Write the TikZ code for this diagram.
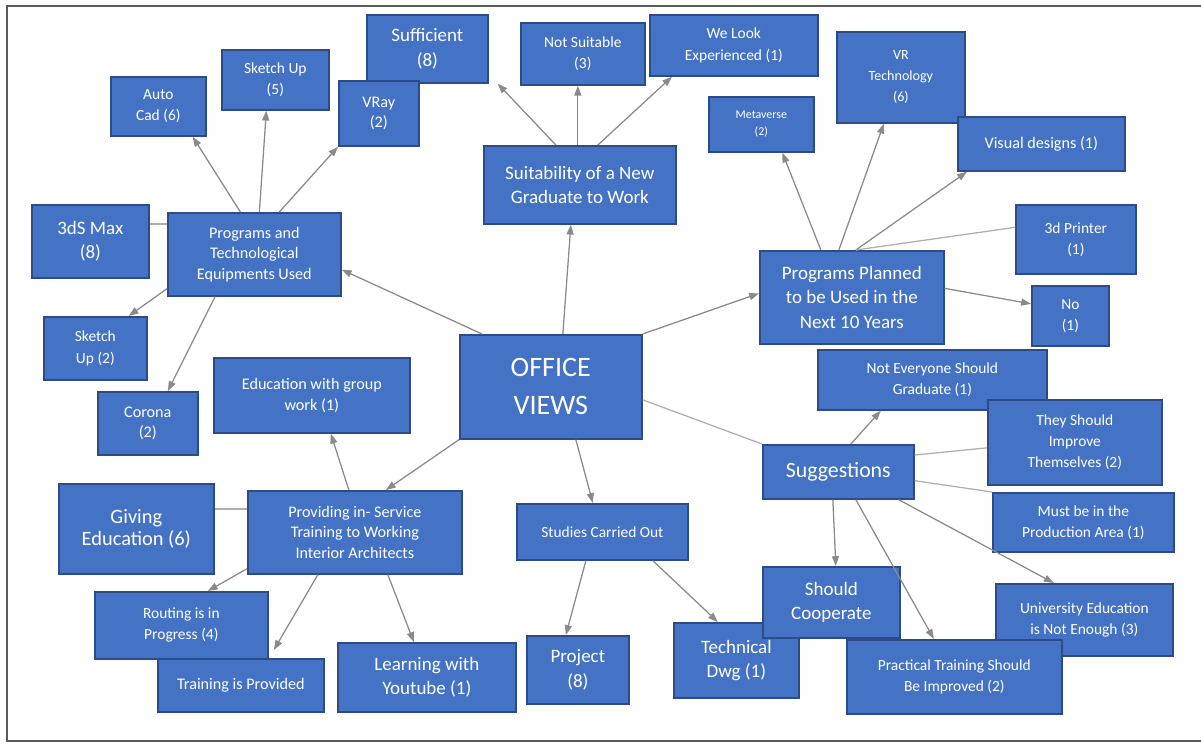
\documentclass[tikz,border=0pt]{standalone}
\usepackage{fontspec}
\setmainfont{Carlito}
\usetikzlibrary{arrows.meta, calc}
\definecolor{boxfill}{HTML}{4472C4}
\definecolor{boxline}{HTML}{2B4C86}
\definecolor{arrgray}{HTML}{8A8A8A}
\definecolor{linkgray}{HTML}{B4ACA8}
\definecolor{framegray}{HTML}{5A5A5A}

\begin{document}
\begin{tikzpicture}[x=0.025cm, y=-0.025cm,
	box/.style={draw=boxline, fill=boxfill, text=white, line width=1.2pt, anchor=north west, align=center, inner sep=1pt},
	wh/.style 2 args={minimum width=#1*0.025cm, minimum height=#2*0.025cm},
	fa/.style={font=\fontsize{8.5}{12}\selectfont},
	fb/.style={font=\fontsize{10}{15}\selectfont},
	fc/.style={font=\fontsize{11}{15}\selectfont},
	fd/.style={font=\fontsize{11.5}{14.5}\selectfont},
	fe/.style={font=\fontsize{13.5}{17.5}\selectfont},
	ff/.style={font=\fontsize{14.5}{16}\selectfont},
	fg/.style={font=\fontsize{15.5}{18}\selectfont},
	fh/.style={font=\fontsize{20}{27}\selectfont},
	arr/.style={draw=arrgray, line width=0.9pt, -{Triangle[length=7pt,width=5pt]}},
	lnk/.style={draw=linkgray, line width=0.9pt}]
	\useasboundingbox (0,0) rectangle (1201,743);
	\draw[framegray, line width=1.5pt] (1215,6) -- (7,6) -- (7,741) -- (1215,741);
	
	\node[box, fh, wh={182}{104}] (office) at (459,334) {OFFICE\\VIEWS};
	
	\node[box, fd, wh={173}{83}] (progs) at (167,212) {Programs and\\Technological\\Equipments Used};
	\node[box, fc, wh={95}{59}] (autocad) at (110,76) {Auto\\Cad (6)};
	\node[box, fc, wh={107}{60}] (sketchA) at (221,49) {Sketch Up\\(5)};
	\node[box, fe, wh={121}{68}] (sufficient) at (366,14) {Sufficient\\(8)};
	\node[box, fd, wh={80}{65}] (vray) at (338,80) {VRay\\(2)};
	\node[box, fe, wh={117}{73}] (max) at (31,204) {3dS Max\\(8)};
	\node[box, fc, wh={103}{63}] (sketchB) at (43,316) {Sketch\\Up (2)};
	\node[box, fd, wh={100}{63}] (corona) at (97,391) {Corona\\(2)};
	
	\node[box, fe, wh={192}{78}] (suit) at (483,145) {Suitability of a New\\Graduate to Work};
	\node[box, fc, wh={124}{62}] (notsuit) at (520,22) {Not Suitable\\(3)};
	\node[box, fc, wh={168}{61}] (welook) at (649,14) {We Look\\Experienced (1)};
	
	\node[box, fe, wh={184}{93}] (planned) at (759,250) {Programs Planned\\to be Used in the\\Next 10 Years};
	\node[box, fa, wh={105}{55}] (meta) at (708,96) {Metaverse\\(2)};
	\node[box, fb, wh={128}{91}] (vr) at (836,31) {VR\\Technology\\(6)};
	\node[box, fd, wh={167}{54}] (visual) at (957,116) {Visual designs (1)};
	\node[box, fc, wh={120}{69}] (printer) at (1015,204) {3d Printer\\(1)};
	\node[box, fc, wh={77}{60}] (no) at (1031,285) {No\\(1)};
	
	\node[box, fd, wh={214}{83}] (provide) at (247,490) {Providing in- Service\\Training to Working\\Interior Architects};
	\node[box, fd, wh={196}{75}] (edugroup) at (213,357) {Education with group\\work (1)};
	\node[box, ff, wh={155}{90}] (giving) at (58,483) {Giving\\Education (6)};
	\node[box, fc, wh={173}{67}] (routing) at (94,591) {Routing is in\\Progress (4)};
	\node[box, fd, wh={166}{53}] (training) at (157,658) {Training is Provided};
	\node[box, fe, wh={178}{69}] (youtube) at (337,642) {Learning with\\Youtube (1)};
	
	\node[box, fc, wh={171}{56}] (studies) at (516,503) {Studies Carried Out};
	\node[box, fe, wh={102}{68}] (project) at (526,635) {Project\\(8)};
	\node[box, fe, wh={125}{75}] (techdwg) at (673,622) {Technical\\Dwg (1)};
	
	\node[box, fg, wh={151}{54}] (suggest) at (762,444) {Suggestions};
	\node[box, fc, wh={229}{60}] (noteveryone) at (817,349) {Not Everyone Should\\Graduate (1)};
	\node[box, fc, wh={174}{85}] (improve) at (987,399) {They Should\\Improve\\Themselves (2)};
	\node[box, fc, wh={181}{59}] (mustbe) at (992,492) {Must be in the\\Production Area (1)};
	\node[box, fe, wh={137}{71}] (coop) at (762,566) {Should\\Cooperate};
	\node[box, fc, wh={177}{72}] (univ) at (995,583) {University Education\\is Not Enough (3)};
	\node[box, fc, wh={215}{74}] (practical) at (846,639) {Practical Training Should\\Be Improved (2)};
	
	\draw[arr] ($(office.north west)+(23,0)$) -- ($(progs.south east)+(0,-27)$);
	\draw[arr] ($(office.north)+(12,0)$) -- ($(suit.south)+(-9,0)$);
	\draw[arr] (office.north east) -- ($(planned.west)+(0,-4)$);
	\draw[lnk] ($(office.east)+(0,13)$) -- (suggest.north west);
	\draw[arr] ($(office.south)+(25,0)$) -- ($(studies.north)+(-9.5,0)$);
	\draw[arr] (office.south west) -- ($(provide.north)+(31,0)$);
	
	\draw[arr] ($(progs.north)+(-14,0)$) -- ($(autocad.south east)+(-14,0)$);
	\draw[arr] ($(progs.north)+(5,0)$) -- ($(sketchA.south)+(-9,0)$);
	\draw[arr] ($(progs.north)+(25,0)$) -- (vray.south west);
	\draw[arr] ($(progs.south west)+(0,-8)$) -- ($(sketchB.north east)+(-19,0)$);
	\draw[arr] ($(progs.south west)+(48,0)$) -- ($(corona.north)+(20,0)$);
	\draw[lnk] ($(max.north east)+(0,20)$) -- ($(progs.north west)+(0,12)$);
	
	\draw[arr] ($(suit.north)+(-24,0)$) -- ($(sufficient.south east)+(9,0)$);
	\draw[arr] ($(suit.north)+(-2,0)$) -- ($(notsuit.south)+(-5,0)$);
	\draw[arr] ($(suit.north)+(18,0)$) -- ($(welook.south west)+(23,0)$);
	
	\draw[arr] ($(planned.north)+(-31,0)$) -- ($(meta.south)+(21,0)$);
	\draw[arr] ($(planned.north)+(-13,0)$) -- ($(vr.south)+(-17,0)$);
	\draw[arr] ($(planned.north)+(4,0)$) -- ($(visual.south west)+(10,0)$);
	\draw[lnk] ($(planned.north)+(4,0)$) -- ($(printer.west)+(0,-12)$);
	\draw[arr] ($(planned.east)+(0,-9)$) -- ($(no.west)+(0,-12)$);
	
	\draw[arr] ($(provide.north)+(-6,0)$) -- ($(edugroup.south)+(19,0)$);
	\draw[lnk] ($(giving.north east)+(0,26)$) -- ($(provide.north west)+(0,19)$);
	\draw[arr] ($(provide.south west)+(0,-6)$) -- ($(routing.north)+(26.5,0)$);
	\draw[arr] ($(provide.south)+(-37,0)$) -- ($(training.north)+(33,-8)$);
	\draw[arr] ($(provide.south)+(33,0)$) -- ($(youtube.north)+(-13,0)$);
	
	\draw[arr] ($(studies.south)+(-16.5,0)$) -- ($(project.north)+(-12,0)$);
	\draw[arr] ($(studies.south)+(50.5,0)$) -- ($(techdwg.north)+(-18.5,0)$);
	
	\draw[arr] ($(suggest.north)+(12.5,0)$) -- ($(noteveryone.south)+(-51.5,0)$);
	\draw[lnk] ($(suggest.north east)+(0,11)$) -- ($(improve.west)+(0,5.5)$);
	\draw[lnk] ($(suggest.south east)+(0,-19)$) -- (mustbe.north west);
	\draw[arr] ($(suggest.south east)+(-16,0)$) -- ($(univ.north)+(-30.5,0)$);
	\draw[arr] ($(suggest.south)+(-5.5,0)$) -- ($(coop.north)+(4.5,0)$);
	\draw[arr] ($(suggest.south)+(17.5,0)$) -- ($(practical.north)+(-20.5,0)$);
\end{tikzpicture}
\end{document}
